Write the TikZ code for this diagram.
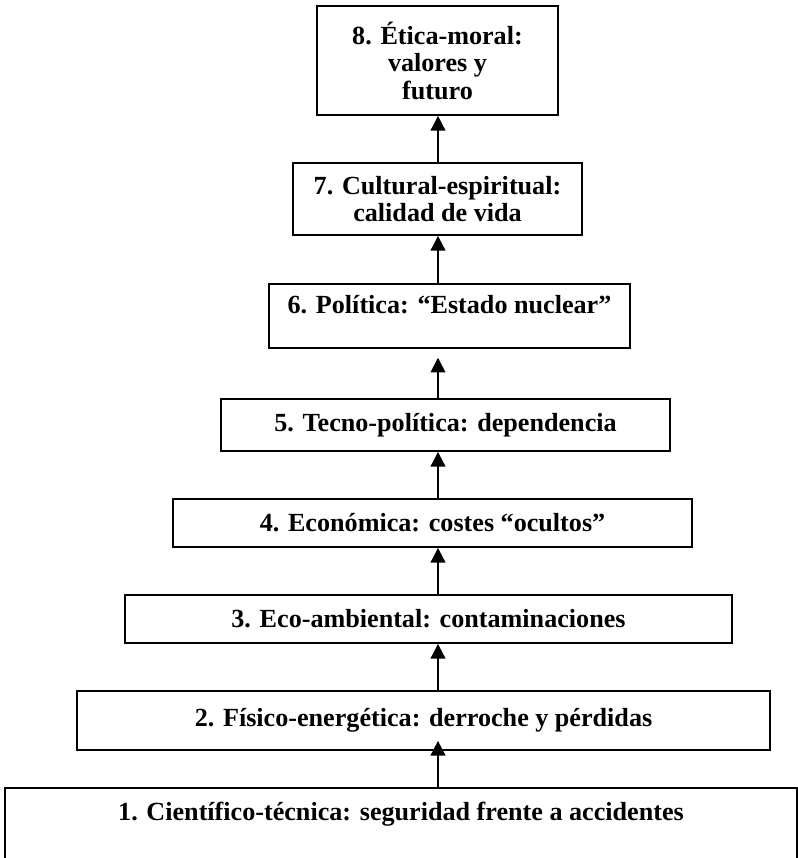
\documentclass[tikz,border=0pt]{standalone}
\usepackage{fontspec}
\setmainfont{Liberation Serif}
\usetikzlibrary{arrows.meta}

\tikzset{
  nivel/.style={draw, line width=1.3pt, align=center, inner sep=0pt,
    font=\bfseries\fontsize{19.6}{20.6}\selectfont},
  tam/.style 2 args={minimum width=#1*0.75pt, minimum height=#2*0.75pt},
  flecha/.style={line width=1.3pt, -{Triangle[width=11pt,length=11pt]}}
}

\begin{document}
\begin{tikzpicture}[x=0.75pt, y=-0.75pt]
\clip (0,0) rectangle (798,858);

% Axis of the arrows
\coordinate (eje) at (438,0);

% Level boxes, bottom to top
\node[nivel, tam={792}{0}, anchor=north, text height=24.75pt, text depth=45pt] (n1) at (401,787) {1. Científico-técnica: seguridad frente a accidentes};
\node[nivel, tam={693}{59}] (n2) at (423.5,720.5) {2. Físico-energética: derroche y pérdidas};
\node[nivel, tam={607}{48}] (n3) at (428.5,619) {3. Eco-ambiental: contaminaciones};
\node[nivel, tam={519}{48}] (n4) at (432.5,523) {4. Económica: costes “ocultos”};
\node[nivel, tam={449}{52}] (n5) at (445.5,425) {5. Tecno-política: dependencia};
\node[nivel, tam={361}{0}, anchor=north, text height=22.5pt, text depth=25.5pt] (n6) at (449.5,283) {6. Política: “Estado nuclear”};
\node[nivel, tam={289}{72}] (n7) at (437.5,199) {7. Cultural-espiritual:\\ calidad de vida};
\node[nivel, tam={241}{109}] (n8) at (437.5,60.5) {8. Ética-moral:\\ valores y\\ futuro};

% Arrows between levels
\draw[flecha, shorten >=-7.5pt] (n1.north -| eje) -- (n2.south -| eje);
\draw[flecha] (n2.north -| eje) -- (n3.south -| eje);
\draw[flecha] (n3.north -| eje) -- (n4.south -| eje);
\draw[flecha] (n4.north -| eje) -- (n5.south -| eje);
\draw[flecha, shorten >=6.75pt] (n5.north -| eje) -- (n6.south -| eje);
\draw[flecha] (n6.north -| eje) -- (n7.south -| eje);
\draw[flecha] (n7.north -| eje) -- (n8.south -| eje);

\end{tikzpicture}
\end{document}
